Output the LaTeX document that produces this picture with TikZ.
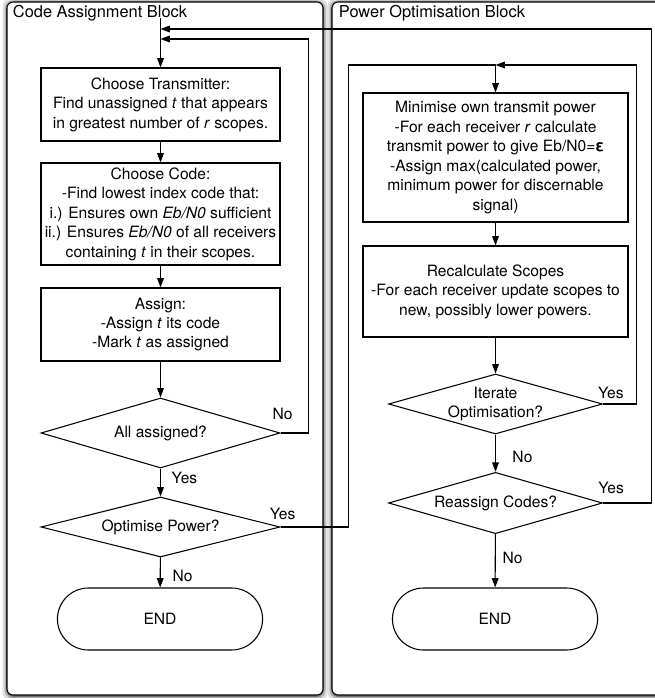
\documentclass[tikz,border=0pt]{standalone}
\usepackage{fontspec}
\setmainfont{TeX Gyre Heros}
\usetikzlibrary{positioning,arrows.meta,shapes.geometric,shapes.misc}
\tikzset{
  panel/.style={draw=black, line width=0.8pt, fill=white, rounded corners=4.5pt},
  stepbox/.style={draw, line width=0.8pt, align=center, inner xsep=0pt, minimum width=179.25pt},
  decision/.style={draw, diamond, line width=0.8pt, inner sep=0pt, minimum width=179.25pt},
  terminal/.style={draw, rounded rectangle, line width=0.8pt, minimum width=160.5pt, minimum height=46.5pt},
  flow/.style={-{Triangle[length=7pt,width=5pt]}, line width=0.8pt},
  blocktitle/.style={anchor=west, font=\fontsize{12.3}{14.6}\selectfont}
}

\begin{document}
\begin{tikzpicture}[x=0.75pt, y=-0.75pt, font=\fontsize{11.7}{14.6}\selectfont, line width=0.8pt]
\useasboundingbox (0,0) rectangle (654,698);
% panels with soft shadow
\foreach \d/\o in {1/0.35, 2.5/0.22, 4.5/0.12} {
  \fill[black, opacity=\o, rounded corners=6pt] (7-\d,3-\d) rectangle (323+\d,696+\d);
  \fill[black, opacity=\o, rounded corners=6pt] (332-\d,3-\d) rectangle (680+\d,696+\d);
}
\draw[panel] (7,2) rectangle (323,695);
\draw[panel] (332,2) rectangle (680,695);
\node[blocktitle] (codetitle) at (8,13) {Code Assignment Block};
\node[blocktitle] (powertitle) at (334,13) {Power Optimisation Block};

% code assignment
\coordinate (lentry) at (160.5,18);
\coordinate (lreturn) at (160.5,29);
\coordinate (lloop) at (160.5,39);
\node[stepbox, minimum height=54.75pt] (choose) at (160.5,104.5) {Choose Transmitter:\\Find unassigned \textit{t} that appears\\in greatest number of \textit{r} scopes.};
\node[stepbox, minimum height=76.5pt] (code) at (160.5,214) {Choose Code:\\-Find lowest index code that:\\i.) Ensures own \textit{Eb/N0} sufficient\\ii.) Ensures \textit{Eb/N0} of all receivers\\containing \textit{t} in their scopes.};
\node[stepbox, minimum height=54.75pt] (assign) at (160.5,324.5) {Assign:\\-Assign \textit{t} its code\\-Mark \textit{t} as assigned};
\node[decision, minimum height=52.5pt, label=center:All assigned?] (alldone) at (160.5,433) {};
\node[decision, minimum height=45pt, label=center:Optimise Power?] (optpow) at (160.5,527) {};
\node[terminal] (endleft) at (160,619) {END};

\draw[flow] (lentry) -- (choose);
\draw[flow] (choose) -- (code);
\draw[flow] (code) -- (assign);
\draw[flow] (assign) -- (alldone);
\draw[flow] (alldone) -- node[pos=0.33, right=4.7pt] {Yes} (optpow);
\draw[flow] (optpow) -- node[pos=0.63, right=5.5pt] {No} (endleft);
\draw[flow] (alldone.east) -- node[pos=0.07, above=6pt] {No} ++(28,0) |- (lloop);
\draw (optpow.east) -- node[pos=0.03, above=2pt] {Yes} ++(68,0) |- (495.5,65) coordinate (rentry);

% power optimisation
\node[stepbox, minimum width=198.75pt, minimum height=96.75pt] (minpow) at (495.5,157.5) {Minimise own transmit power\\-For each receiver \textit{r} calculate\\transmit power to give Eb/N0=\textbf{ε}\\-Assign max(calculated power,\\minimum power for discernable\\signal)};
\node[stepbox, minimum width=198.75pt, minimum height=68.25pt] (rescope) at (495.5,291.5) {Recalculate Scopes\\-For each receiver update scopes to\\new, possibly lower powers.};
\node[decision, minimum width=160.5pt, minimum height=45pt, label={[align=center]center:Iterate\\Optimisation?}] (iterate) at (495.5,404) {};
\node[decision, minimum width=160.5pt, minimum height=46pt, label=center:Reassign Codes?] (reassign) at (495.5,503) {};
\node[terminal] (endright) at (495,619) {END};

\draw[flow] (rentry) -- (minpow);
\draw[flow] (minpow) -- (rescope);
\draw[flow] (rescope) -- (iterate);
\draw[flow] (iterate) -- node[pos=0.6, right=9pt] {No} (reassign);
\draw[flow] (reassign) -- node[pos=0.44, right=1.7pt] {No} (endright);
\draw[flow] (iterate.east) -- node[pos=0.24, above=0.5pt] {Yes} ++(33,0) |- (rentry);
\draw[flow] (reassign.east) -- node[pos=0.17, above=3.5pt] {Yes} ++(48,0) |- (lreturn);
\end{tikzpicture}
\end{document}
